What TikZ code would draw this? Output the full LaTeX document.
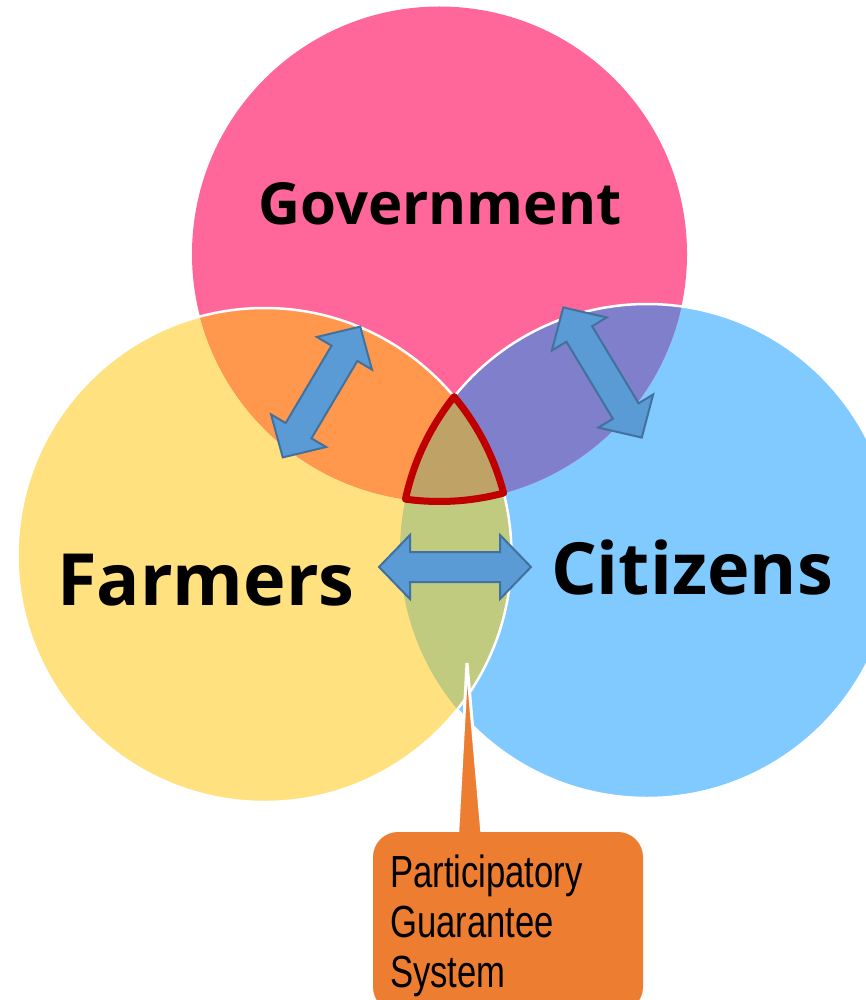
\documentclass[tikz,border=0pt]{standalone}
\usepackage{fontspec}
\setmainfont{Open Sans}
\newfontfamily\labelfont{Open Sans}
\newfontfamily\narrowfont[FakeStretch=0.77]{Liberation Sans}
\definecolor{govpink}{HTML}{FF6699}
\definecolor{farmyellow}{HTML}{FFE17F}
\definecolor{citblue}{HTML}{80CAFF}
\definecolor{gfcol}{HTML}{FF974C}
\definecolor{gccol}{HTML}{7F7FCC}
\definecolor{fccol}{HTML}{C0CB80}
\definecolor{triplecol}{HTML}{BFA265}
\definecolor{trired}{HTML}{C00000}
\definecolor{arrowfill}{HTML}{5B9BD5}
\definecolor{arrowline}{HTML}{41719C}
\definecolor{calloutcol}{HTML}{ED7D31}
\tikzset{
  dblarrow/.pic={
    \draw[fill=arrowfill, draw=arrowline, line width=2pt, line join=miter]
      (-76,0) -- (-45,32) -- (-45,15) -- (45,15) -- (45,32) -- (76,0)
      -- (45,-32) -- (45,-15) -- (-45,-15) -- (-45,-32) -- cycle;
  },
  biglabel/.style={font=\labelfont\bfseries\fontsize{58}{60}\selectfont, anchor=base, inner sep=0pt, text=black},
  sidelabel/.style={font=\labelfont\bfseries\fontsize{72}{74}\selectfont, anchor=base, inner sep=0pt, text=black},
  boxtext/.style={font=\narrowfont\fontsize{45}{50}\selectfont, anchor=base west, inner sep=0pt, text=black}
}
\begin{document}
\begin{tikzpicture}[x=1pt,y=1pt]
\clip (0,0) rectangle (866,-1000);
\coordinate (Gc) at (439.5,-254);
\coordinate (Fc) at (264.5,-555);
\coordinate (Cc) at (647,-551);
% base circles
\fill[citblue] (Cc) circle (247);
\fill[farmyellow] (Fc) circle (247);
\fill[govpink] (Gc) circle (247.5);
% overlaps
\begin{scope}
  \clip (Gc) circle (247.5);
  \fill[gfcol] (Fc) circle (247);
  \fill[gccol] (Cc) circle (247);
\end{scope}
\begin{scope}
  \clip (Fc) circle (247);
  \fill[fccol] (Cc) circle (247);
\end{scope}
% white outlines
\begin{scope}[even odd rule]
  \clip (0,0) rectangle (866,-1000) (Fc) circle (247);
  \draw[white, line width=2.5pt] (Cc) circle (247);
\end{scope}
\draw[white, line width=2.5pt] (Fc) circle (247);
% triple intersection
\path[fill=triplecol, draw=trired, line width=7pt, line join=round]
  (454.1,-396.7) arc[start angle=141.34, end angle=167.88, radius=247]
  arc[start angle=-97.90, end angle=-74.99, radius=247.5]
  arc[start angle=14.53, end angle=39.86, radius=247] -- cycle;
% arrows
\pic[rotate=59.36] at (321.5,-392) {dblarrow};
\pic[rotate=-58.9] at (602.5,-372.5) {dblarrow};
\pic at (455,-567) {dblarrow};
% labels
\node[biglabel] (gov) at (440,-225) {Government};
\node[sidelabel] (farm) at (206,-605) {Farmers};
\node[sidelabel] (cit) at (692,-594) {Citizens};
% callout
\coordinate (tip) at (467,-663);
\draw[fill=calloutcol, draw=white, line width=3pt, line join=bevel]
  (457,-845) -- (tip) -- (483,-845) -- cycle;
\fill[calloutcol, rounded corners=25pt] (373,-832) rectangle (643,-1012);
\node[boxtext] (p1) at (390,-887) {Participatory};
\node[boxtext] (p2) at (390,-937) {Guarantee};
\node[boxtext] (p3) at (390,-987) {System};
\end{tikzpicture}
\end{document}
